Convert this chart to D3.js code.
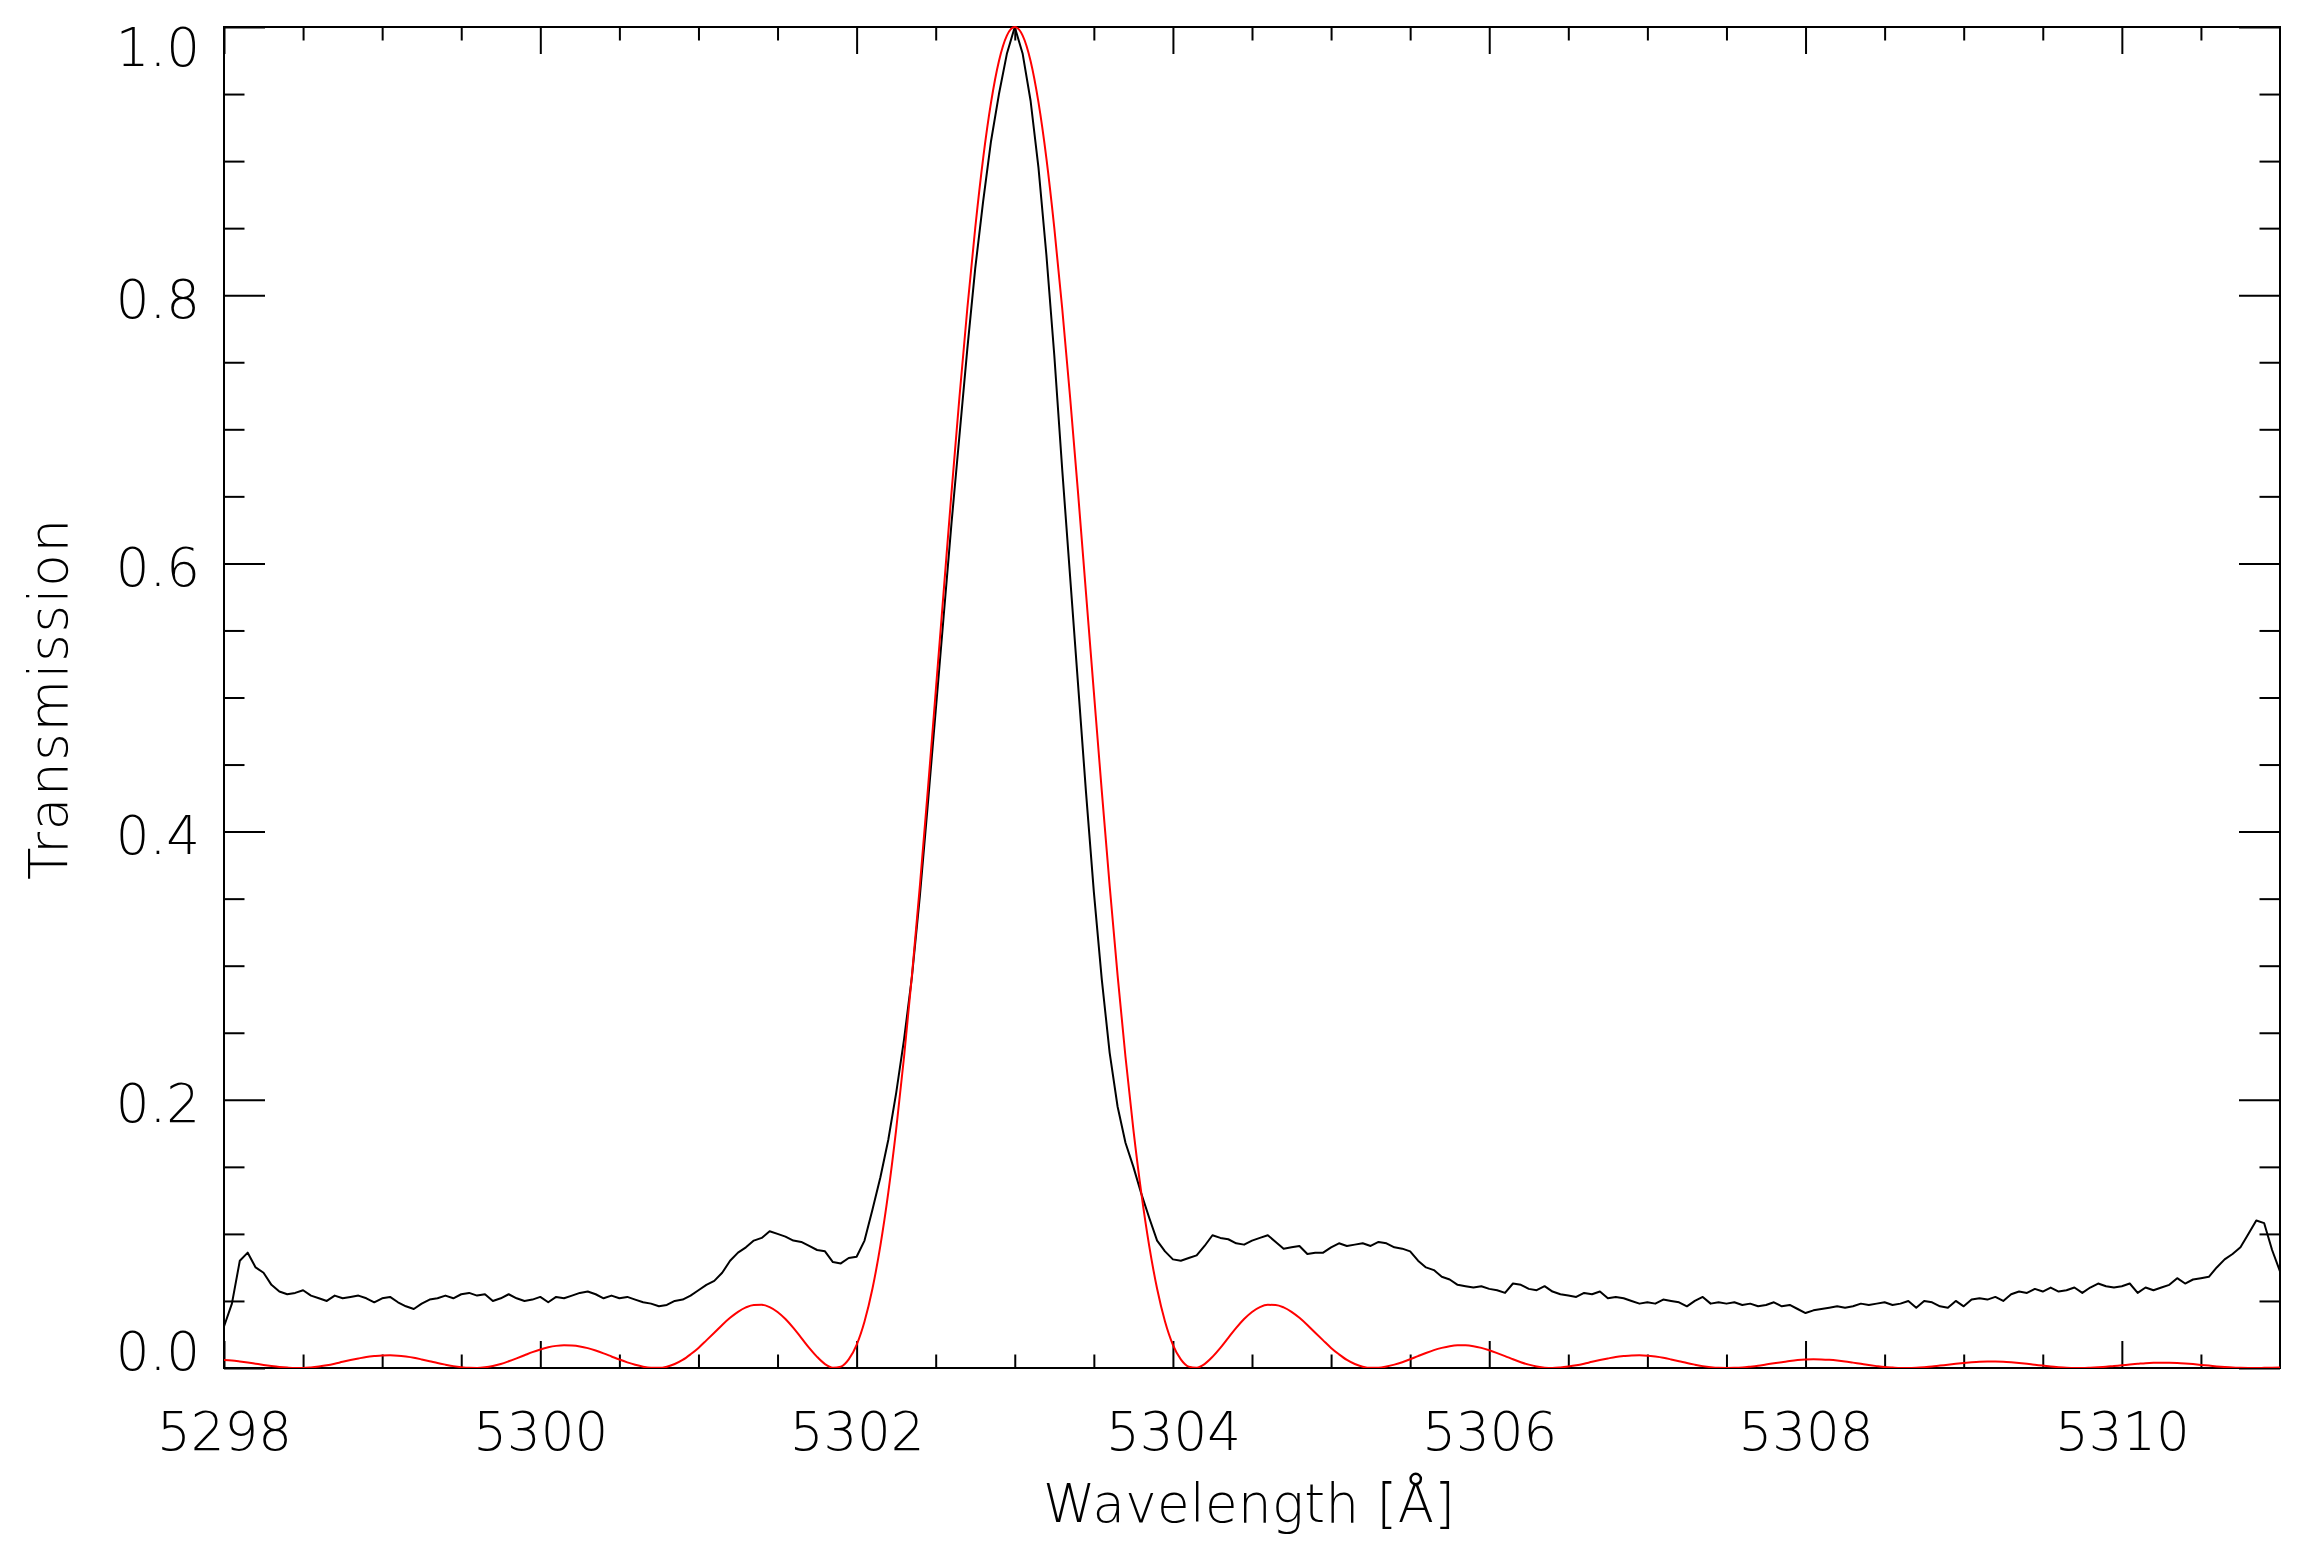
<!DOCTYPE html>
<html><head><meta charset="utf-8">
<script src="https://cdn.jsdelivr.net/npm/d3@7"></script>
<style>
body{margin:0;background:#fff;}
text{font-family:"DejaVu Sans",sans-serif;font-weight:200;fill:#000;}
</style>
</head><body>
<svg id="chart" width="2305" height="1561"></svg>
<script>
// Sampling grid of the spectra (Angstrom)
const waveStart = 5298.0;
const waveStep = 0.05;

// Measured transmission (black), one row = 0.5 Å
const measured = [
  0.031,0.048,0.080,0.086,0.075,0.071,0.062,0.057,0.055,0.056,
  0.058,0.054,0.052,0.050,0.054,0.052,0.053,0.054,0.052,0.049,
  0.052,0.053,0.049,0.046,0.044,0.048,0.051,0.052,0.054,0.052,
  0.055,0.056,0.054,0.055,0.050,0.052,0.055,0.052,0.050,0.051,
  0.053,0.049,0.053,0.052,0.054,0.056,0.057,0.055,0.052,0.054,
  0.052,0.053,0.051,0.049,0.048,0.046,0.047,0.050,0.051,0.054,
  0.058,0.062,0.065,0.071,0.080,0.086,0.090,0.095,0.097,0.102,
  0.100,0.098,0.095,0.094,0.091,0.088,0.087,0.079,0.078,0.082,
  0.083,0.095,0.118,0.142,0.170,0.205,0.245,0.292,0.352,0.420,
  0.490,0.560,0.630,0.695,0.760,0.820,0.870,0.915,0.950,0.980,
  1.000,0.980,0.945,0.895,0.830,0.755,0.670,0.590,0.510,0.430,
  0.355,0.290,0.235,0.195,0.168,0.150,0.130,0.112,0.095,0.087,
  0.081,0.080,0.082,0.084,0.091,0.099,0.097,0.096,0.093,0.092,
  0.095,0.097,0.099,0.094,0.089,0.090,0.091,0.085,0.086,0.086,
  0.090,0.093,0.091,0.092,0.093,0.091,0.094,0.093,0.090,0.089,
  0.087,0.080,0.075,0.073,0.068,0.066,0.062,0.061,0.060,0.061,
  0.059,0.058,0.056,0.063,0.062,0.059,0.058,0.061,0.057,0.055,
  0.054,0.053,0.056,0.055,0.057,0.052,0.053,0.052,0.050,0.048,
  0.049,0.048,0.051,0.050,0.049,0.046,0.050,0.053,0.048,0.049,
  0.048,0.049,0.047,0.048,0.046,0.047,0.049,0.046,0.047,0.044,
  0.041,0.043,0.044,0.045,0.046,0.045,0.046,0.048,0.047,0.048,
  0.049,0.047,0.048,0.050,0.045,0.050,0.049,0.046,0.045,0.050,
  0.046,0.051,0.052,0.051,0.053,0.050,0.055,0.057,0.056,0.059,
  0.057,0.060,0.057,0.058,0.060,0.056,0.060,0.063,0.061,0.060,
  0.061,0.063,0.056,0.060,0.058,0.060,0.062,0.067,0.063,0.066,
  0.067,0.068,0.075,0.081,0.085,0.090,0.100,0.110,0.108,0.088,
  0.072
];

// Theoretical transmission (red), one row = 0.5 Å
const theory = [
  0.0060,0.0056,0.0049,0.0041,0.0032,0.0023,0.0015,0.0008,0.0003,0.0000,
  0.0000,0.0004,0.0011,0.0020,0.0032,0.0046,0.0059,0.0071,0.0082,0.0089,
  0.0094,0.0095,0.0092,0.0085,0.0076,0.0064,0.0051,0.0037,0.0025,0.0014,
  0.0006,0.0001,0.0000,0.0005,0.0015,0.0030,0.0050,0.0072,0.0095,0.0118,
  0.0138,0.0154,0.0165,0.0170,0.0168,0.0161,0.0148,0.0130,0.0109,0.0086,
  0.0063,0.0042,0.0024,0.0010,0.0002,0.0001,0.0010,0.0030,0.0060,0.0102,
  0.0150,0.0206,0.0263,0.0321,0.0374,0.0419,0.0452,0.0470,0.0471,0.0454,
  0.0418,0.0365,0.0299,0.0225,0.0150,0.0083,0.0029,0.0002,0.0010,0.0064,
  0.0173,0.0347,0.0591,0.0911,0.1306,0.1777,0.2321,0.2930,0.3596,0.4305,
  0.5042,0.5785,0.6528,0.7237,0.7901,0.8501,0.9021,0.9438,0.9747,0.9936,
  1.0000,0.9936,0.9747,0.9438,0.9021,0.8501,0.7901,0.7237,0.6528,0.5785,
  0.5042,0.4305,0.3596,0.2930,0.2321,0.1777,0.1306,0.0911,0.0591,0.0347,
  0.0173,0.0064,0.0010,0.0002,0.0029,0.0083,0.0150,0.0225,0.0299,0.0365,
  0.0418,0.0454,0.0471,0.0470,0.0452,0.0419,0.0374,0.0321,0.0263,0.0206,
  0.0150,0.0102,0.0060,0.0030,0.0010,0.0001,0.0002,0.0011,0.0025,0.0043,
  0.0065,0.0089,0.0112,0.0133,0.0150,0.0163,0.0169,0.0169,0.0163,0.0150,
  0.0132,0.0111,0.0089,0.0065,0.0043,0.0025,0.0011,0.0002,0.0000,0.0004,
  0.0011,0.0020,0.0032,0.0046,0.0059,0.0071,0.0082,0.0089,0.0094,0.0095,
  0.0092,0.0085,0.0076,0.0064,0.0051,0.0037,0.0025,0.0014,0.0006,0.0001,
  0.0000,0.0001,0.0004,0.0010,0.0017,0.0026,0.0035,0.0043,0.0052,0.0059,
  0.0063,0.0065,0.0064,0.0061,0.0056,0.0049,0.0040,0.0031,0.0022,0.0014,
  0.0007,0.0003,0.0000,0.0000,0.0002,0.0006,0.0011,0.0018,0.0024,0.0031,
  0.0037,0.0042,0.0046,0.0048,0.0048,0.0046,0.0042,0.0037,0.0031,0.0024,
  0.0018,0.0011,0.0006,0.0002,0.0000,0.0000,0.0002,0.0005,0.0009,0.0015,
  0.0020,0.0026,0.0031,0.0036,0.0039,0.0040,0.0040,0.0038,0.0034,0.0029,
  0.0023,0.0018,0.0012,0.0007,0.0003,0.0001,0.0000,0.0000,0.0001,0.0002,
  0.0004
];

const xMajorTicks = [5298, 5300, 5302, 5304, 5306, 5308, 5310];
const xMinorTicks = [5298.5,5299,5299.5,5300.5,5301,5301.5,5302.5,5303,5303.5,
                     5304.5,5305,5305.5,5306.5,5307,5307.5,5308.5,5309,5309.5,5310.5];
const yMajorTicks = [0, 0.2, 0.4, 0.6, 0.8, 1.0];
const yTickLabels = ["0.0", "0.2", "0.4", "0.6", "0.8", "1.0"];
const yMinorTicks = [0.05,0.1,0.15,0.25,0.3,0.35,0.45,0.5,0.55,0.65,0.7,0.75,0.85,0.9,0.95];
const xTitle = "Wavelength [Å]";
const yTitle = "Transmission";

const L = 224, R = 2280, T = 27, B = 1368;
const svg = d3.select("#chart");
const x = d3.scaleLinear().domain([5298, 5311]).range([L, R]);
const y = d3.scaleLinear().domain([0, 1]).range([B, T]);

const wave = measured.map((_, i) => waveStart + i * waveStep);
const blackData = measured.map((v, i) => [wave[i], v]);
const redData = theory.map((v, i) => [waveStart + i * waveStep, v]);

svg.append("defs").append("clipPath").attr("id", "clip")
  .append("rect").attr("x", L).attr("y", T - 2).attr("width", R - L).attr("height", B - T + 2);

const fs = 53;
function styleAxis(g) {
  g.select(".domain").remove();
  g.selectAll(".tick line").attr("stroke", "#000").attr("stroke-width", 2);
  g.selectAll("text").attr("font-size", fs).attr("fill", "#000")
    .attr("font-family", "DejaVu Sans").attr("font-weight", 200);
}

// bottom axis
svg.append("g").attr("transform", `translate(0,${B})`)
  .call(d3.axisBottom(x).tickValues(xMajorTicks).tickSizeInner(-27).tickSizeOuter(0)
    .tickPadding(44).tickFormat(d3.format("d")))
  .call(styleAxis);
svg.append("g").attr("transform", `translate(0,${B})`)
  .call(d3.axisBottom(x).tickValues(xMinorTicks).tickSizeInner(-13.5).tickSizeOuter(0).tickFormat(""))
  .call(styleAxis);
// top axis
svg.append("g").attr("transform", `translate(0,${T})`)
  .call(d3.axisTop(x).tickValues(xMajorTicks).tickSizeInner(-27).tickSizeOuter(0).tickFormat(""))
  .call(styleAxis);
svg.append("g").attr("transform", `translate(0,${T})`)
  .call(d3.axisTop(x).tickValues(xMinorTicks).tickSizeInner(-13.5).tickSizeOuter(0).tickFormat(""))
  .call(styleAxis);
// left axis
const yl = svg.append("g").attr("transform", `translate(${L},0)`)
  .call(d3.axisLeft(y).tickValues(yMajorTicks).tickSizeInner(-41).tickSizeOuter(0)
    .tickPadding(24).tickFormat((d, i) => yTickLabels[i]))
  .call(styleAxis);
yl.selectAll("text").attr("dy", (d) => d === 1 ? "38px" : (d === 0 ? "1px" : "22px"));
svg.append("g").attr("transform", `translate(${L},0)`)
  .call(d3.axisLeft(y).tickValues(yMinorTicks).tickSizeInner(-20.5).tickSizeOuter(0).tickFormat(""))
  .call(styleAxis);
// right axis
svg.append("g").attr("transform", `translate(${R},0)`)
  .call(d3.axisRight(y).tickValues(yMajorTicks).tickSizeInner(-41).tickSizeOuter(0).tickFormat(""))
  .call(styleAxis);
svg.append("g").attr("transform", `translate(${R},0)`)
  .call(d3.axisRight(y).tickValues(yMinorTicks).tickSizeInner(-20.5).tickSizeOuter(0).tickFormat(""))
  .call(styleAxis);

// frame
svg.append("rect").attr("x", L).attr("y", T).attr("width", R - L).attr("height", B - T)
  .attr("fill", "none").attr("stroke", "#000").attr("stroke-width", 2);

// curves
const plot = svg.append("g").attr("clip-path", "url(#clip)");
plot.append("path").datum(blackData)
  .attr("fill", "none").attr("stroke", "#000").attr("stroke-width", 2)
  .attr("stroke-linejoin", "round")
  .attr("d", d3.line().x(d => x(d[0])).y(d => y(d[1])));
plot.append("path").datum(redData)
  .attr("fill", "none").attr("stroke", "#ff0000").attr("stroke-width", 2)
  .attr("d", d3.line().curve(d3.curveMonotoneX).x(d => x(d[0])).y(d => y(d[1])));

// titles
svg.append("text").attr("x", (L + R) / 2 - 3).attr("y", 1522)
  .attr("text-anchor", "middle").attr("font-size", fs)
  .attr("textLength", 412).attr("lengthAdjust", "spacing")
  .text(xTitle);
svg.append("text").attr("transform", `translate(67,${(T + B) / 2 + 2}) rotate(-90)`)
  .attr("text-anchor", "middle").attr("font-size", fs)
  .attr("textLength", 361).attr("lengthAdjust", "spacing")
  .text(yTitle);
</script>
</body></html>
